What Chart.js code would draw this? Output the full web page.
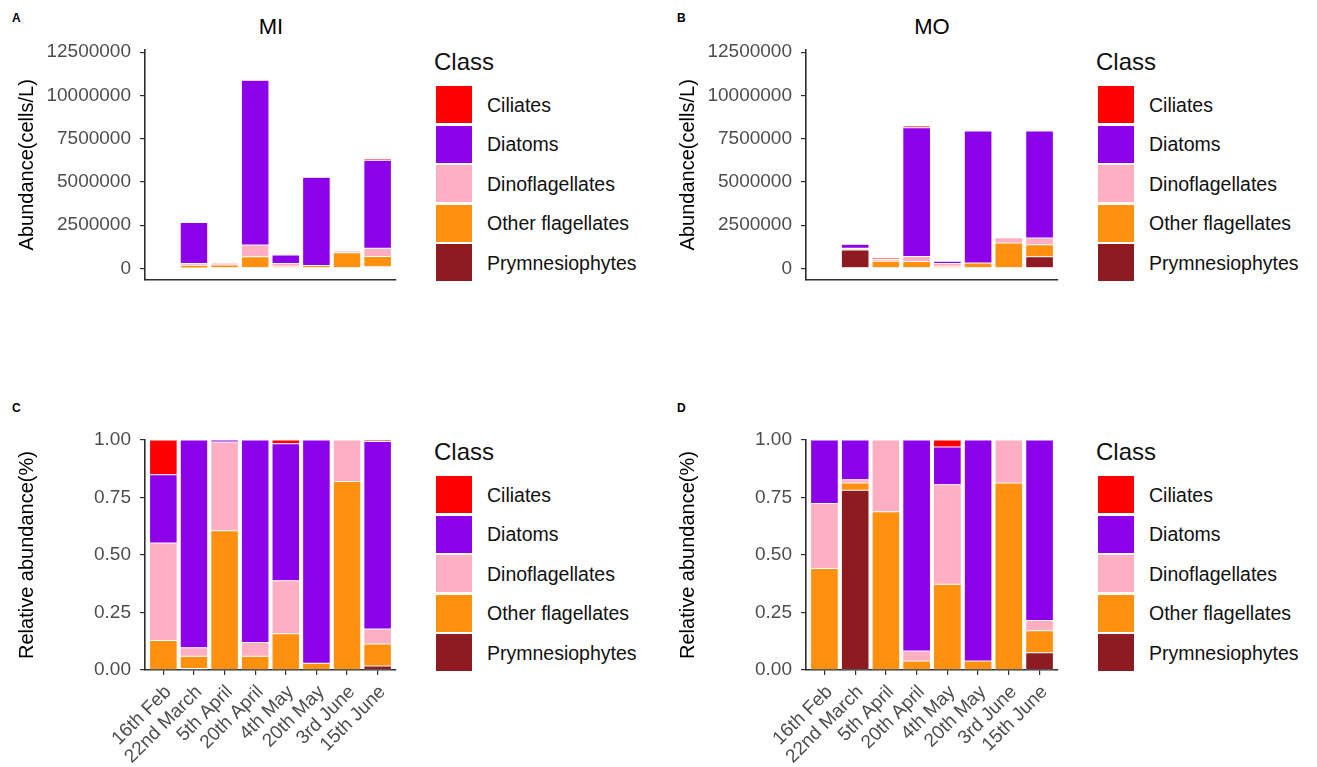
<!DOCTYPE html>
<html>
<head>
<meta charset="utf-8">
<script src="https://cdn.jsdelivr.net/npm/chart.js@4.4.1/dist/chart.umd.min.js"></script>
<style>
  body { margin: 0; background: #fff; width: 1317px; height: 767px; position: relative; overflow: hidden;
         font-family: "Liberation Sans", Arial, sans-serif; }
  canvas { position: absolute; }
  .tag { position: absolute; font-weight: bold; font-size: 12px; color: #000; line-height: 14px; }
  .ttl { position: absolute; font-size: 22px; color: #000; line-height: 26px; transform: translateX(-50%); white-space: nowrap; }
  .lg { position: absolute; }
  .lg .head { position: absolute; left: 0; top: 0; font-size: 24px; line-height: 28px; color: #111; white-space: nowrap; }
  .lg .key { position: absolute; left: 2px; width: 36px; height: 37px; }
  .lg .lab { position: absolute; left: 53px; font-size: 19.5px; line-height: 24px; color: #111; white-space: nowrap; }
</style>
</head>
<body>
<div class="tag" style="left:12px;top:11px">A</div>
<div class="tag" style="left:677px;top:11px">B</div>
<div class="tag" style="left:12px;top:401px">C</div>
<div class="tag" style="left:677px;top:401px">D</div>
<div class="ttl" style="left:271px;top:14px">MI</div>
<div class="ttl" style="left:932px;top:14px">MO</div>

<canvas id="pA" width="410" height="300" style="left:0px;top:0px"></canvas>
<canvas id="pB" width="410" height="300" style="left:661px;top:0px"></canvas>
<canvas id="pC" width="410" height="367" style="left:0px;top:400px"></canvas>
<canvas id="pD" width="410" height="367" style="left:661px;top:400px"></canvas>

<div class="lg" id="lgA" style="left:434px;top:48px"></div>
<div class="lg" id="lgB" style="left:1096px;top:48px"></div>
<div class="lg" id="lgC" style="left:434px;top:438px"></div>
<div class="lg" id="lgD" style="left:1096px;top:438px"></div>

<script>
// Sampling dates (x categories)
const dates = ['16th Feb', '22nd March', '5th April', '20th April', '4th May', '20th May', '3rd June', '15th June'];

// Plankton classes and their fill colours
const classes = ['Ciliates', 'Diatoms', 'Dinoflagellates', 'Other flagellates', 'Prymnesiophytes'];
const classColors = ['#ff0000', '#8d00ea', '#ffafc1', '#ff9010', '#8e1a22'];

// Axis tick values
const absTicks = [0, 2500000, 5000000, 7500000, 10000000, 12500000];
const relTicks = [0, 0.25, 0.5, 0.75, 1];

// MI station, abundance (cells/L)
const miCiliates        = [5000, 0, 0, 0, 12000, 0, 50000, 80000];
const miDiatoms         = [9000, 2370000, 5000, 9530000, 480000, 5100000, 0, 5100000];
const miDinoflagellates = [13000, 90000, 110000, 680000, 170000, 0, 100000, 470000];
const miOtherFlag       = [4000, 170000, 200000, 670000, 120000, 170000, 900000, 590000];
const miPrymnesio       = [0, 20000, 0, 0, 0, 0, 0, 100000];

// MO station, abundance (cells/L)
const moCiliates        = [0, 0, 80000, 110000, 10000, 0, 0, 0];
const moDiatoms         = [11000, 230000, 0, 7440000, 130000, 7630000, 0, 6180000];
const moDinoflagellates = [11000, 30000, 100000, 290000, 160000, 0, 300000, 390000];
const moOtherFlag       = [18000, 60000, 420000, 400000, 130000, 310000, 1470000, 700000];
const moPrymnesio       = [0, 1070000, 0, 0, 0, 0, 0, 670000];

// MI station, relative abundance
const miRelCiliates        = [0.151, 0, 0, 0, 0.016, 0, 0, 0.007];
const miRelDiatoms         = [0.297, 0.903, 0.009, 0.88, 0.596, 0.971, 0, 0.815];
const miRelDinoflagellates = [0.424, 0.037, 0.386, 0.06, 0.23, 0, 0.18, 0.065];
const miRelOtherFlag       = [0.128, 0.053, 0.605, 0.06, 0.158, 0.029, 0.82, 0.096];
const miRelPrymnesio       = [0, 0.007, 0, 0, 0, 0, 0, 0.017];

// MO station, relative abundance
const moRelCiliates        = [0, 0, 0, 0, 0.03, 0, 0, 0];
const moRelDiatoms         = [0.276, 0.173, 0, 0.917, 0.165, 0.961, 0, 0.785];
const moRelDinoflagellates = [0.283, 0.014, 0.312, 0.044, 0.432, 0, 0.187, 0.044];
const moRelOtherFlag       = [0.441, 0.031, 0.688, 0.039, 0.373, 0.039, 0.813, 0.096];
const moRelPrymnesio       = [0, 0.782, 0, 0, 0, 0, 0, 0.075];

Chart.defaults.font.family = "'Liberation Sans', Arial, sans-serif";
Chart.defaults.animation = false;

const AXIS_COLOR = '#2e2e2e';
const TICK_TEXT = '#4d4d4d';

function buildChart(id, series, cfg) {
  // series follows the order of `classes`; stack bottom-up from the last class
  const datasets = [];
  for (let k = classes.length - 1; k >= 0; k--) {
    datasets.push({
      label: classes[k],
      data: series[k].map((v, i) => ({ x: i, y: v })),
      backgroundColor: classColors[k],
      borderColor: 'rgba(255,255,255,0.8)',
      borderWidth: 0.5,
      borderSkipped: false,
      categoryPercentage: 1,
      barPercentage: 0.9
    });
  }
  return new Chart(document.getElementById(id), {
    type: 'bar',
    data: { datasets },
    options: {
      responsive: false,
      devicePixelRatio: 1,
      layout: { padding: cfg.padding },
      plugins: { legend: { display: false }, tooltip: { enabled: false }, title: { display: false } },
      scales: {
        x: {
          type: 'linear',
          stacked: true,
          offset: false,
          min: -0.6,
          max: dates.length - 1 + 0.6,
          afterBuildTicks: s => { s.ticks = dates.map((d, i) => ({ value: i })); },
          afterFit: s => { s.height = cfg.xHeight; },
          border: { display: true, color: AXIS_COLOR, width: 1.6 },
          grid: { display: cfg.showX, offset: false, drawOnChartArea: false, drawTicks: true, tickLength: 5,
                  color: AXIS_COLOR, lineWidth: 1.2 },
          ticks: {
            display: cfg.showX,
            autoSkip: false,
            minRotation: 45,
            maxRotation: 45,
            padding: 6,
            labelOffset: 5,
            color: TICK_TEXT,
            font: { size: 19 },
            callback: v => dates[v]
          }
        },
        y: {
          type: 'linear',
          stacked: true,
          min: cfg.yMin,
          max: cfg.yMax,
          afterBuildTicks: s => { s.ticks = cfg.yTicks.map(v => ({ value: v })); },
          afterFit: s => { s.width = 145; },
          border: { display: true, color: AXIS_COLOR, width: 1.6 },
          grid: { display: true, drawOnChartArea: false, drawTicks: true, tickLength: 5,
                  color: AXIS_COLOR, lineWidth: 1.2 },
          ticks: {
            padding: 9,
            color: TICK_TEXT,
            font: { size: 19 },
            callback: cfg.fmt
          },
          title: {
            display: true,
            text: cfg.yTitle,
            color: '#000',
            font: { size: 20 },
            padding: { top: 15, bottom: 0 }
          }
        }
      }
    }
  });
}

const absCfg = (right) => ({
  padding: { top: 50, bottom: 18, left: 0, right },
  xHeight: 0, showX: false,
  yMin: -647000, yMax: 12630000, yTicks: absTicks,
  fmt: v => String(Math.round(v)),
  yTitle: 'Abundance(cells/L)'
});
const relCfg = (right) => ({
  padding: { top: 40, bottom: 0, left: 0, right },
  xHeight: 97, showX: true,
  yMin: 0, yMax: 1, yTicks: relTicks,
  fmt: v => Number(v).toFixed(2),
  yTitle: 'Relative abundance(%)'
});

buildChart('pA', [miCiliates, miDiatoms, miDinoflagellates, miOtherFlag, miPrymnesio], absCfg(14));
buildChart('pB', [moCiliates, moDiatoms, moDinoflagellates, moOtherFlag, moPrymnesio], absCfg(13));
buildChart('pC', [miRelCiliates, miRelDiatoms, miRelDinoflagellates, miRelOtherFlag, miRelPrymnesio], relCfg(14));
buildChart('pD', [moRelCiliates, moRelDiatoms, moRelDinoflagellates, moRelOtherFlag, moRelPrymnesio], relCfg(13));

// Legend blocks
function buildLegend(id) {
  const box = document.getElementById(id);
  let html = '<div class="head">Class</div>';
  classes.forEach((c, i) => {
    const top = 38 + i * 39.6;
    html += `<div class="key" style="top:${top}px;background:${classColors[i]}"></div>`;
    html += `<div class="lab" style="top:${top + 6.5}px">${c}</div>`;
  });
  box.innerHTML = html;
}
['lgA', 'lgB', 'lgC', 'lgD'].forEach(buildLegend);
</script>
</body>
</html>
